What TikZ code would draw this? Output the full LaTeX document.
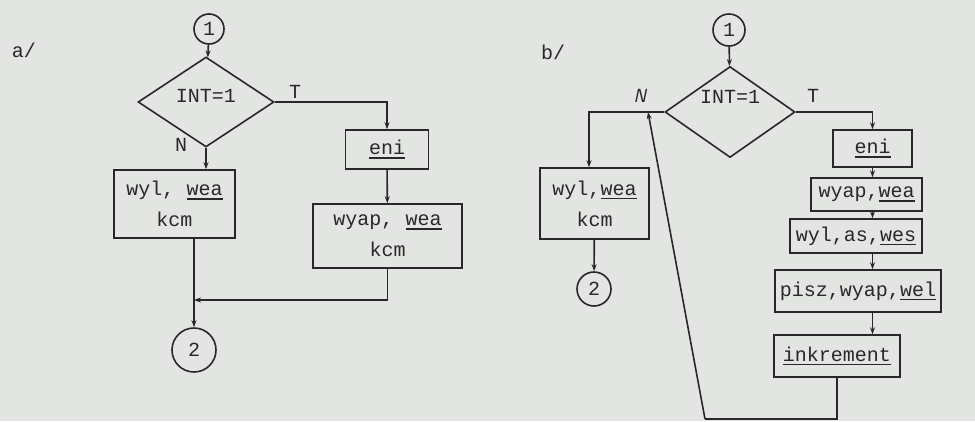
\documentclass[tikz,border=0pt]{standalone}
\usepackage{fontspec}
\setmainfont{Liberation Mono}
\usetikzlibrary{shapes.geometric,arrows.meta}
\definecolor{paper}{RGB}{226,229,225}
\definecolor{ink}{RGB}{40,40,40}
\newcommand{\pk}[1]{\setbox0\hbox{#1}\rlap{\rule[-4pt]{\wd0}{1.4pt}}\box0}

\begin{document}
\begin{tikzpicture}[x=1pt,y=-1pt,>={Stealth[length=7pt,width=5pt]},line width=1.6pt]
  \tikzset{every node/.style={font=\fontsize{20}{31}\selectfont,text=ink}}
  \tikzset{blok/.style={draw=ink,inner sep=0pt,align=center},
    lacznik/.style={draw=ink,circle,inner sep=0pt},
    decyzja/.style={draw=ink,diamond,inner sep=0pt}}

  \fill[paper] (0,0) rectangle (975,421);
  \useasboundingbox (0,0) rectangle (975,421);

  % a/
  \node (a) at (24,50) {a/};
  \node[lacznik,minimum size=30pt] (a1) at (209,29) {1};
  \node[decyzja,minimum width=136pt,minimum height=90pt,
    label={[yshift=6pt]center:INT=1}] (aint) at (206,102) {};
  \node[blok,minimum width=121pt,minimum height=68pt] (awyl) at (174.5,204) {wyl, \pk{wea}\\kcm};
  \node[blok,minimum width=83pt,minimum height=39pt] (aeni) at (387,149.5) {\pk{eni}};
  \node[blok,minimum width=149pt,minimum height=64pt] (awyap) at (387.5,236) {wyap, \pk{wea}\\kcm};
  \node[lacznik,minimum size=44pt] (a2) at (194,350) {2};
  \node (aT) at (295,92) {T};
  \node (aN) at (181,145) {N};
  \coordinate (aj) at (194,300);

  \draw[ink,->] (a1) -- (aint);
  \draw[ink,->] (aint.south) -- (aint.south |- awyl.north);
  \draw[ink,->] (aint.east) -| (aeni.north);
  \draw[ink,->] (aeni) -- (awyap);
  \draw[ink,->] (awyap.south) |- (aj);
  \draw[ink,->] (awyl.south -| aj) -- (a2);

  % b/
  \node (b) at (553,52) {b/};
  \node[lacznik,minimum size=32pt] (b1) at (729,30) {1};
  \node[decyzja,minimum width=130pt,minimum height=91pt,
    label={[yshift=15pt]center:INT=1}] (bint) at (730,112) {};
  \node[blok,minimum width=109pt,minimum height=71pt] (bwyl) at (594.5,203.5) {wyl,\pk{wea}\\kcm};
  \node[lacznik,minimum size=34pt] (b2) at (594,289) {2};
  \node[blok,minimum width=79pt,minimum height=37pt] (beni) at (872.5,148.5) {\pk{eni}};
  \node[blok,minimum width=111pt,minimum height=33pt] (bwyap) at (866.5,194.5) {wyap,\pk{wea}};
  \node[blok,minimum width=132pt,minimum height=34pt] (bwyl2) at (856,236) {wyl,as,\pk{wes}};
  \node[blok,minimum width=166pt,minimum height=42pt] (bpisz) at (858,291) {pisz,wyap,\pk{wel}};
  \node[blok,minimum width=126pt,minimum height=42pt] (bink) at (837,356) {\pk{inkrement}};
  \node (bT) at (813,96) {T};
  \node[font=\fontsize{19}{20}\selectfont\sffamily\itshape] (bN) at (640,96) {N};
  \coordinate (bdol) at (705,419);
  \coordinate (bwr) at (648,112);

  \draw[ink,->] (b1) -- (bint);
  \draw[ink,->] (bint.west) -| ([xshift=-5.5pt]bwyl.north);
  \draw[ink,->] (bint.east) -| (beni.north);
  \draw[ink,->] (bwyl) -- (b2);
  \draw[ink,->] (beni.south) -- (beni.south |- bwyap.north);
  \draw[ink,->] (beni.south |- bwyap.south) -- (beni.south |- bwyl2.north);
  \draw[ink,->] (beni.south |- bwyl2.south) -- (beni.south |- bpisz.north);
  \draw[ink,->] (beni.south |- bpisz.south) -- (beni.south |- bink.north);
  \draw[ink] (bink.south) |- (bdol);
  \draw[ink,->] (bdol) -- (bwr);
\end{tikzpicture}
\end{document}
